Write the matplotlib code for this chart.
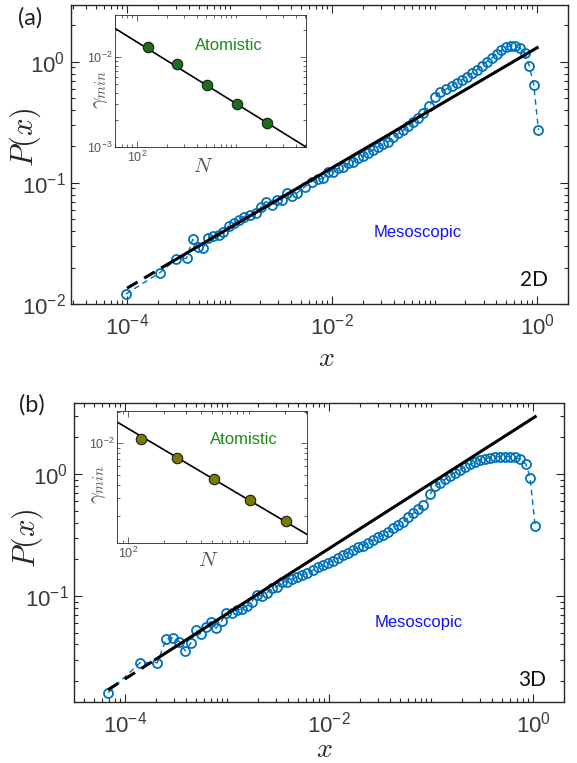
import numpy as np
import matplotlib
matplotlib.use("Agg")
import matplotlib.pyplot as plt
from matplotlib.ticker import LogLocator, NullFormatter, FixedLocator, LogFormatterSciNotation

plt.rcParams['font.family'] = ['Liberation Sans', 'DejaVu Sans']
plt.rcParams['axes.unicode_minus'] = False

# ---- panel (a), 2D : log10 of x and P(x)
log_x_2d = [-4.01, -3.68, -3.52, -3.42, -3.36, -3.31, -3.256, -3.207, -3.158, -3.10,
            -3.06, -3.01, -2.953, -2.904, -2.856, -2.80, -2.744, -2.696, -2.647, -2.588,
            -2.54, -2.49, -2.44, -2.387, -2.338, -2.263, -2.198, -2.134, -2.085, -2.036,
            -1.987, -1.939, -1.890, -1.841, -1.792, -1.743, -1.695, -1.646, -1.597, -1.548,
            -1.5, -1.451, -1.402, -1.353, -1.304, -1.256, -1.207, -1.158, -1.109, -1.05,
            -0.995, -0.946, -0.888, -0.832, -0.783, -0.735, -0.686, -0.637, -0.588, -0.540,
            -0.491, -0.442, -0.393, -0.348, -0.303, -0.258, -0.213, -0.168, -0.123, -0.078,
            -0.033, 0.013]
log_p_2d = [-1.917, -1.741, -1.631, -1.622, -1.465, -1.526, -1.535, -1.457, -1.438, -1.43,
            -1.402, -1.355, -1.333, -1.306, -1.278, -1.264, -1.25, -1.201, -1.154, -1.182,
            -1.14, -1.14, -1.085, -1.105, -1.08, -1.030, -0.989, -0.970, -0.961, -0.906,
            -0.906, -0.879, -0.865, -0.837, -0.824, -0.796, -0.777, -0.749, -0.727, -0.700,
            -0.678, -0.658, -0.623, -0.589, -0.562, -0.529, -0.493, -0.465, -0.419, -0.362,
            -0.292, -0.245, -0.226, -0.198, -0.176, -0.149, -0.121, -0.094, -0.066, -0.033,
            0.003, 0.030, 0.066, 0.094, 0.121, 0.132, 0.132, 0.113, 0.077, -0.03,
            -0.19, -0.562]
fit_dash_x_2d = [1.0e-4, 2.8e-4]
fit_dash_p_2d = [0.0135, 0.0226]
fit_x_2d = [2.8e-4, 1.0]
fit_p_2d = [0.0226, 1.31]

# ---- panel (b), 3D
log_x_3d = [-4.164, -3.853, -3.683, -3.598, -3.526, -3.467, -3.409, -3.356, -3.307, -3.258,
            -3.209, -3.160, -3.108, -3.052, -3.01, -2.954, -2.905, -2.856, -2.807, -2.758,
            -2.709, -2.660, -2.611, -2.556, -2.507, -2.458, -2.409, -2.36, -2.311, -2.268,
            -2.213, -2.154, -2.105, -2.056, -2.007, -1.958, -1.909, -1.86, -1.81, -1.762,
            -1.713, -1.664, -1.615, -1.566, -1.517, -1.468, -1.418, -1.369, -1.32, -1.271,
            -1.222, -1.173, -1.124, -1.075, -1.01, -0.961, -0.912, -0.863, -0.814, -0.765,
            -0.716, -0.667, -0.618, -0.569, -0.52, -0.471, -0.422, -0.373, -0.324, -0.275,
            -0.225, -0.176, -0.127, -0.069, -0.029, 0.02]
log_p_3d = [-1.792, -1.547, -1.547, -1.355, -1.342, -1.374, -1.451, -1.388, -1.279, -1.314,
            -1.252, -1.21, -1.265, -1.205, -1.142, -1.137, -1.115, -1.109, -1.082, -1.047,
            -0.992, -1.0, -0.973, -0.937, -0.924, -0.883, -0.883, -0.863, -0.842, -0.828,
            -0.814, -0.787, -0.765, -0.746, -0.727, -0.711, -0.691, -0.664, -0.645, -0.623,
            -0.601, -0.588, -0.563, -0.541, -0.519, -0.5, -0.473, -0.445, -0.418, -0.391,
            -0.355, -0.322, -0.29, -0.254, -0.167, -0.098, -0.071, -0.044, -0.016, 0.011,
            0.033, 0.06, 0.079, 0.096, 0.115, 0.123, 0.134, 0.139, 0.142, 0.142,
            0.142, 0.137, 0.12, 0.079, -0.03, -0.426]
fit_dash_x_3d = [6.8e-5, 2.0e-4]
fit_dash_p_3d = [0.0170, 0.0302]
fit_x_3d = [2.0e-4, 1.05]
fit_p_3d = [0.0302, 2.95]

# ---- insets: gamma_min vs N
N_vals = [128, 256, 512, 1024, 2048]
gamma_2d = [0.0130, 0.0083, 0.00485, 0.00298, 0.00186]
gamma_3d = [0.01086, 0.00729, 0.00458, 0.00283, 0.00177]
inset_fit_N_2d = [60, 5100]
inset_fit_g_2d = [0.0208, 0.0010]
inset_fit_N_3d = [81, 3040]
inset_fit_g_3d = [0.0160, 0.00133]

W, H = 577, 763
fig = plt.figure(figsize=(W / 100, H / 100), dpi=100)


def box(l, t, r, b):
    return [l / W, 1 - b / H, (r - l) / W, (b - t) / H]


axcol = '#262626'
blue = '#0072BD'


def style_main(ax, xlim, ylim, yticks):
    ax.set_xscale('log')
    ax.set_yscale('log')
    ax.set_xlim(xlim)
    ax.set_ylim(ylim)
    ax.xaxis.set_major_locator(FixedLocator([1e-4, 1e-2, 1e0]))
    ax.xaxis.set_minor_locator(LogLocator(base=10, subs=np.arange(1, 10), numticks=100))
    ax.yaxis.set_major_locator(FixedLocator(yticks))
    ax.yaxis.set_minor_locator(LogLocator(base=10, subs=np.arange(2, 10), numticks=100))
    ax.xaxis.set_major_formatter(LogFormatterSciNotation())
    ax.yaxis.set_major_formatter(LogFormatterSciNotation())
    ax.xaxis.set_minor_formatter(NullFormatter())
    ax.yaxis.set_minor_formatter(NullFormatter())
    ax.tick_params(which='both', direction='in', top=True, right=True,
                   color=axcol, width=0.8, labelcolor='#3a3a3a', labelsize=16)
    ax.tick_params(which='major', length=6)
    ax.tick_params(which='minor', length=3)
    ax.tick_params(axis='x', pad=7)
    ax.tick_params(axis='y', pad=4)
    for s in ax.spines.values():
        s.set_color(axcol)
        s.set_linewidth(1.0)


def style_inset(ax, xlim, ylim, yticks):
    ax.set_xscale('log')
    ax.set_yscale('log')
    ax.set_xlim(xlim)
    ax.set_ylim(ylim)
    ax.xaxis.set_major_locator(FixedLocator([100]))
    ax.xaxis.set_minor_locator(LogLocator(base=10, subs=np.arange(1, 10), numticks=100))
    ax.yaxis.set_major_locator(FixedLocator(yticks))
    ax.yaxis.set_minor_locator(LogLocator(base=10, subs=np.arange(2, 10), numticks=100))
    ax.xaxis.set_major_formatter(LogFormatterSciNotation())
    ax.yaxis.set_major_formatter(LogFormatterSciNotation())
    ax.xaxis.set_minor_formatter(NullFormatter())
    ax.yaxis.set_minor_formatter(NullFormatter())
    ax.tick_params(which='both', direction='in', top=True, right=True,
                   color=axcol, width=0.5, labelcolor='#555555', labelsize=9, pad=2)
    ax.tick_params(which='major', length=4)
    ax.tick_params(which='minor', length=2)
    for s in ax.spines.values():
        s.set_color(axcol)
        s.set_linewidth(0.6)


def draw_panel(ax_box, inset_box, lx, lp, fdx, fdp, fx, fp, xlim, ylim, yticks,
               gam, ifn, ifg, ixlim, iylim, iyticks, mcolor, labels):
    ax = fig.add_axes(box(*ax_box))
    style_main(ax, xlim, ylim, yticks)
    ax.plot(np.power(10.0, lx), np.power(10.0, lp), color=blue, lw=1.0,
            dashes=(4, 3), marker='o', ms=6.5, mfc='none', mec=blue, mew=1.3, zorder=2)
    ax.plot(fdx, fdp, color='k', lw=2.2, dashes=(4, 2.5), zorder=3)
    ax.plot(fx, fp, color='k', lw=2.2, zorder=3)

    ia = fig.add_axes(box(*inset_box))
    style_inset(ia, ixlim, iylim, iyticks)
    ia.plot(ifn, ifg, color='k', lw=1.2, zorder=2)
    ia.plot(N_vals, gam, 'o', ms=7.5, mfc=mcolor, mec='#1a1a1a', mew=0.8, zorder=3)

    for txt, x, y, kw in labels:
        kw = dict(kw)
        va = kw.pop('va', 'center')
        fig.text(x / W, 1 - y / H, txt, ha='center', va=va, **kw)
    return ax


sans2 = ['Lato', 'DejaVu Sans']

draw_panel((71, 5, 568, 304), (115, 15, 306, 147), log_x_2d, log_p_2d,
           fit_dash_x_2d, fit_dash_p_2d, fit_x_2d, fit_p_2d,
           (2.84e-5, 2.0), (0.01, 2.95), [1e-2, 1e-1, 1e0],
           gamma_2d, inset_fit_N_2d, inset_fit_g_2d, (60, 5100), (1e-3, 0.0293), [1e-3, 1e-2],
           '#1c6e1c',
           [('(a)', 30, 18, dict(fontsize=17, family=sans2, color='#222222')),
            ('2D', 534, 280, dict(fontsize=15, family=sans2, color='#111111')),
            ('Mesoscopic', 418, 232, dict(fontsize=12, color='#1010ff')),
            ('Atomistic', 229, 46, dict(fontsize=12, color='#1a8a1a')),
            (r'$x$', 326, 366, dict(fontsize=20, math_fontfamily='cm', color='#262626', va='baseline')),
            (r'$P(x)$', 25, 137, dict(fontsize=22, math_fontfamily='cm', color='#262626', rotation=90)),
            (r'$\gamma_{min}$', 100, 89, dict(fontsize=15, math_fontfamily='cm', color='#555555', rotation=90)),
            (r'$N$', 203, 167, dict(fontsize=15, math_fontfamily='cm', color='#555555'))])

draw_panel((74, 403, 564, 702), (117, 411, 307, 543), log_x_3d, log_p_3d,
           fit_dash_x_3d, fit_dash_p_3d, fit_x_3d, fit_p_3d,
           (3.16e-5, 2.01), (0.0135, 3.82), [1e-1, 1e0],
           gamma_3d, inset_fit_N_3d, inset_fit_g_3d, (81, 3040), (1.1e-3, 0.0204), [1e-2],
           '#7a7a00',
           [('(b)', 32, 405, dict(fontsize=17, family=sans2, color='#222222')),
            ('3D', 532, 680, dict(fontsize=15, family=sans2, color='#111111')),
            ('Mesoscopic', 419, 622, dict(fontsize=12, color='#1010ff')),
            ('Atomistic', 244, 440, dict(fontsize=12, color='#1a8a1a')),
            (r'$x$', 324, 757, dict(fontsize=20, math_fontfamily='cm', color='#262626', va='baseline')),
            (r'$P(x)$', 27, 538, dict(fontsize=22, math_fontfamily='cm', color='#262626', rotation=90)),
            (r'$\gamma_{min}$', 99, 484, dict(fontsize=15, math_fontfamily='cm', color='#555555', rotation=90)),
            (r'$N$', 208, 561, dict(fontsize=15, math_fontfamily='cm', color='#555555'))])

fig.savefig('out.png', dpi=100)
